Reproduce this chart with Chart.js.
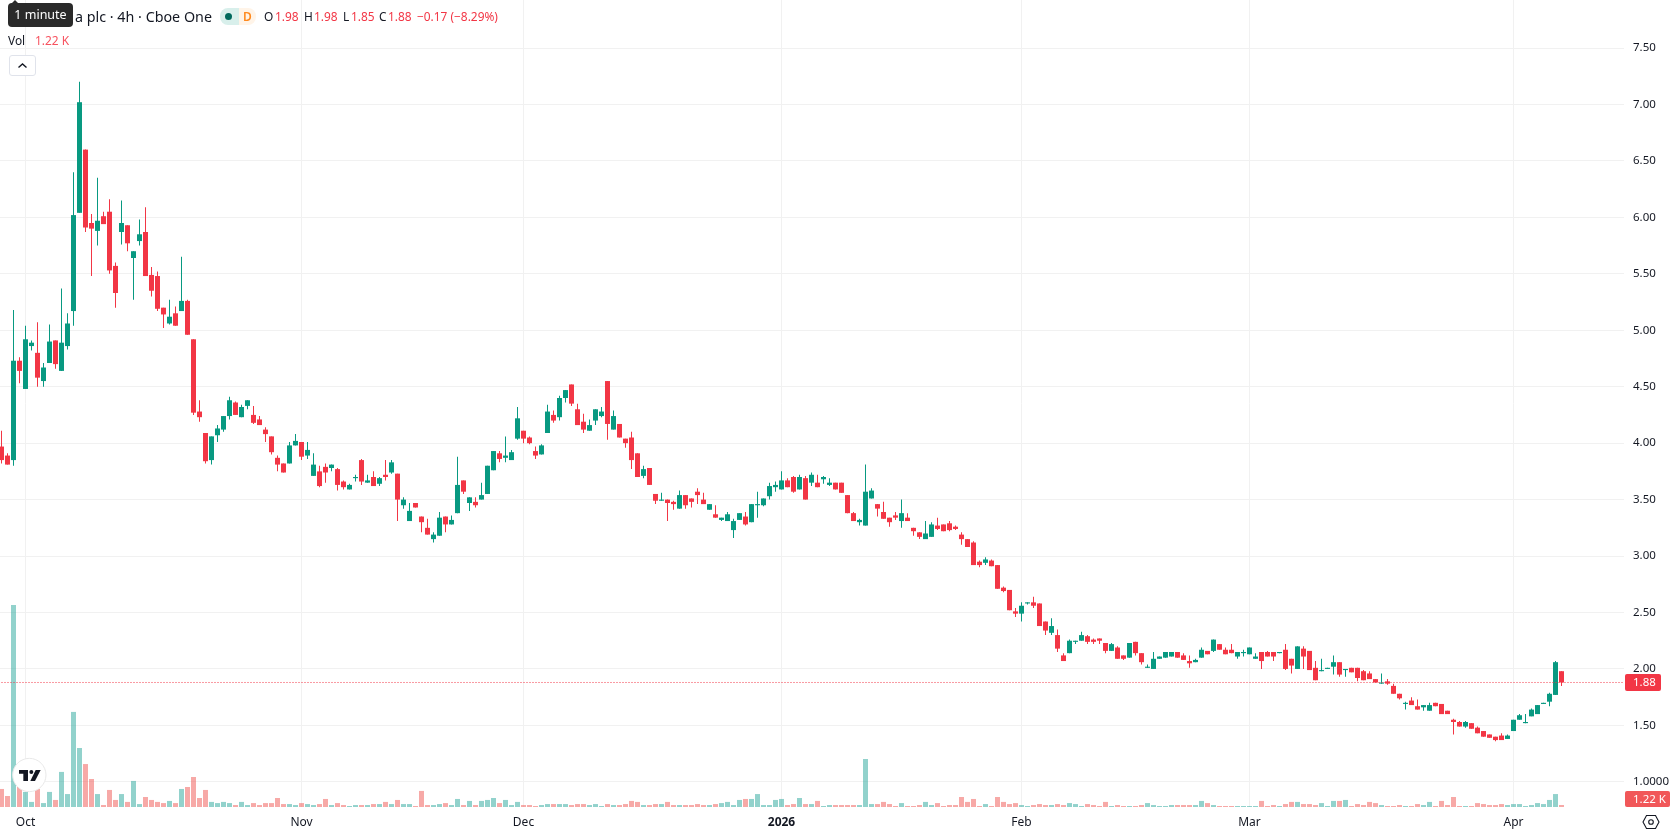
<!DOCTYPE html>
<html>
<head>
<meta charset="utf-8">
<title>4h candles</title>
<script src="https://cdn.jsdelivr.net/npm/chart.js@4/dist/chart.umd.min.js"></script>
<style>
    html, body { margin: 0; padding: 0; background: #ffffff; overflow: hidden; }
    #wrap { position: relative; width: 1678px; height: 835px; font-family: "Noto Sans", sans-serif; color: #131722; }
    #wrap canvas { position: absolute; left: 0; top: 0; }
    .txt { position: absolute; white-space: nowrap; font-size: 11.9px; line-height: 18px; }
    .red { color: #F23645; }
    #tip { position: absolute; left: 8px; top: 3px; width: 65px; height: 24px; background: #2a2a2a; border-radius: 4px; color: #fff; font-size: 12.5px; line-height: 24px; text-align: center; }
    #tipArrow { position: absolute; left: 11px; top: 0; width: 0; height: 0; border-left: 4px solid transparent; border-right: 4px solid transparent; border-bottom: 4px solid #2a2a2a; }
    #pill1 { position: absolute; left: 220px; top: 8px; width: 19px; height: 17px; background: #d8efeb; border-radius: 8px 0 0 8px; }
    #dot { position: absolute; left: 225px; top: 13px; width: 7px; height: 7px; border-radius: 50%; background: #00695c; }
    #pill2 { position: absolute; left: 239px; top: 8px; width: 17px; height: 17px; background: #fff4e8; border-radius: 0 8px 8px 0; color: #ff8a1f; font-size: 12px; font-weight: 600; line-height: 17px; text-align: center; }
    #collapse { position: absolute; left: 9px; top: 55px; width: 25px; height: 19px; border: 1px solid #e0e3eb; border-radius: 3px; background: #fff; }
    svg { position: absolute; overflow: visible; }
</style>
</head>
<body>
<div id="wrap">
    <canvas id="priceChart" width="1678" height="835"></canvas>

    <div class="txt" style="left:75px;top:6px;font-size:14.3px;line-height:21px;">a plc · 4h · Cboe One</div>
    <div id="pill1"></div><div id="dot"></div><div id="pill2">D</div>
    <div class="txt" style="left:264px;top:7px;">O</div><div class="txt red" style="left:275px;top:7px;">1.98</div>
    <div class="txt" style="left:304px;top:7px;">H</div><div class="txt red" style="left:314px;top:7px;">1.98</div>
    <div class="txt" style="left:343px;top:7px;">L</div><div class="txt red" style="left:351px;top:7px;">1.85</div>
    <div class="txt" style="left:379px;top:7px;">C</div><div class="txt red" style="left:388px;top:7px;">1.88</div>
    <div class="txt red" style="left:417px;top:7px;">−0.17 (−8.29%)</div>
    <div class="txt" style="left:8px;top:31px;">Vol</div>
    <div class="txt" style="left:35px;top:31px;color:#F7525F;">1.22 K</div>
    <div id="tip">1 minute</div><div id="tipArrow"></div>
    <div id="collapse">
        <svg style="left:6px;top:5px" width="13" height="9" viewBox="0 0 13 9"><path d="M2.5 6.5 L6.5 3 L10.5 6.5" fill="none" stroke="#131722" stroke-width="1.4"/></svg>
    </div>

    <!-- round badge, bottom left -->
    <svg style="left:0;top:600px" width="420" height="235" viewBox="0 0 1260 705">
        <circle cx="88" cy="525" r="50" fill="#ffffff" stroke="#e8e8e8" stroke-width="3"/>
        <path d="M57 510 H84 V543 H70 V521 H57 Z" fill="#131722"/>
        <circle cx="94" cy="516" r="6" fill="#131722"/>
        <path d="M107 510 H122 L105 543 H91 Z" fill="#131722"/>
    </svg>

    <!-- settings icon -->
    <svg style="left:1642px;top:813px" width="18" height="18" viewBox="0 0 18 18">
        <path d="M4.5 2.5 H13.5 L17 9 L13.5 15.5 H4.5 L1 9 Z" fill="none" stroke="#131722" stroke-width="1.1"/>
        <circle cx="9" cy="9" r="2.3" fill="none" stroke="#131722" stroke-width="1.1"/>
    </svg>
</div>

<script>
const openVals = [
    3.97,3.89,3.85,4.73,4.48,4.86,4.80,4.55,4.71,4.91,
    4.64,4.86,5.17,6.04,6.60,5.95,5.88,6.01,6.05,5.57,
    5.87,5.93,5.64,5.79,5.87,5.49,5.48,5.20,5.06,5.15,
    5.17,5.26,4.92,4.28,4.09,3.85,4.07,4.12,4.24,4.36,
    4.23,4.33,4.25,4.21,4.12,4.06,3.87,3.82,3.82,3.98,
    4.01,3.89,3.71,3.75,3.79,3.78,3.77,3.66,3.59,3.69,
    3.85,3.65,3.70,3.64,3.72,3.74,3.73,3.45,3.31,3.47,
    3.35,3.25,3.15,3.18,3.35,3.28,3.38,3.67,3.47,3.48,
    3.50,3.55,3.76,3.91,3.87,3.85,4.04,4.11,4.05,3.93,
    3.90,4.09,4.25,4.23,4.40,4.52,4.30,4.19,4.11,4.20,
    4.24,4.55,4.12,4.17,4.04,4.05,3.91,3.71,3.78,3.55,
    3.49,3.50,3.48,3.42,3.54,3.51,3.57,3.50,3.41,3.37,
    3.32,3.31,3.23,3.32,3.35,3.30,3.45,3.45,3.53,3.61,
    3.59,3.67,3.70,3.59,3.69,3.65,3.65,3.68,3.63,3.65,
    3.65,3.54,3.38,3.30,3.27,3.51,3.46,3.39,3.34,3.36,
    3.31,3.34,3.25,3.21,3.15,3.17,3.27,3.28,3.29,3.26,
    3.19,3.15,3.12,2.95,2.94,2.96,2.92,2.72,2.70,2.51,
    2.49,2.58,2.59,2.58,2.42,2.32,2.30,2.12,2.14,2.24,
    2.25,2.29,2.26,2.27,2.23,2.16,2.19,2.12,2.10,2.24,
    2.14,2.01,2.00,2.09,2.10,2.11,2.15,2.12,2.07,2.06,
    2.10,2.16,2.16,2.22,2.17,2.17,2.11,2.14,2.13,2.09,
    2.15,2.15,2.15,2.14,2.17,2.09,2.00,2.18,2.16,2.01,
    1.98,2.00,2.02,2.06,1.99,2.01,2.01,1.98,1.96,1.91,
    1.87,1.89,1.85,1.78,1.69,1.72,1.67,1.66,1.63,1.70,
    1.69,1.63,1.55,1.53,1.49,1.52,1.48,1.45,1.42,1.40,
    1.41,1.38,1.45,1.55,1.52,1.58,1.60,1.69,1.71,1.77,
    1.98
];
const highVals = [
    4.11,3.91,5.18,4.76,5.04,4.91,5.07,4.71,5.05,4.91,
    5.37,5.15,6.40,7.20,6.60,6.03,6.35,6.05,6.16,5.60,
    6.15,5.93,5.70,5.98,6.09,5.56,5.52,5.20,5.27,5.21,
    5.65,5.27,4.92,4.38,4.09,4.06,4.16,4.24,4.41,4.37,
    4.34,4.38,4.33,4.24,4.14,4.06,3.89,3.82,4.01,4.08,
    4.01,4.01,3.91,3.80,3.82,3.81,3.78,3.67,3.64,3.72,
    3.86,3.72,3.75,3.70,3.85,3.85,3.73,3.52,3.47,3.47,
    3.35,3.33,3.21,3.39,3.35,3.36,3.88,3.67,3.52,3.52,
    3.65,3.80,3.93,3.93,4.06,3.94,4.32,4.11,4.06,3.97,
    3.99,4.34,4.29,4.42,4.47,4.52,4.35,4.26,4.21,4.30,
    4.32,4.55,4.29,4.17,4.04,4.10,3.91,3.80,3.78,3.55,
    3.56,3.50,3.49,3.58,3.54,3.51,3.60,3.56,3.46,3.45,
    3.34,3.39,3.33,3.38,3.39,3.46,3.57,3.51,3.65,3.66,
    3.75,3.69,3.71,3.72,3.71,3.74,3.72,3.71,3.69,3.65,
    3.65,3.54,3.39,3.33,3.81,3.60,3.46,3.48,3.34,3.39,
    3.50,3.38,3.25,3.21,3.31,3.30,3.34,3.28,3.31,3.27,
    3.21,3.15,3.13,2.96,2.99,2.97,2.92,2.73,2.70,2.54,
    2.59,2.59,2.64,2.58,2.42,2.45,2.35,2.14,2.26,2.25,
    2.33,2.30,2.27,2.27,2.23,2.23,2.20,2.12,2.23,2.24,
    2.14,2.04,2.15,2.11,2.15,2.15,2.15,2.14,2.12,2.09,
    2.19,2.16,2.26,2.22,2.19,2.22,2.15,2.17,2.19,2.14,
    2.15,2.16,2.15,2.15,2.22,2.09,2.20,2.20,2.16,2.07,
    2.09,2.01,2.12,2.06,2.00,2.01,2.01,1.99,1.98,1.91,
    1.96,1.91,1.87,1.78,1.71,1.75,1.73,1.68,1.70,1.70,
    1.69,1.63,1.56,1.54,1.54,1.52,1.49,1.45,1.42,1.40,
    1.43,1.42,1.55,1.60,1.60,1.65,1.68,1.70,1.79,2.07,
    1.98
];
const lowVals = [
    3.82,3.81,3.80,4.53,4.48,4.82,4.50,4.50,4.71,4.66,
    4.64,4.83,5.04,6.04,5.87,5.48,5.75,5.94,5.50,5.20,
    5.76,5.70,5.27,5.75,5.48,5.30,5.17,5.02,5.05,5.04,
    5.17,4.96,4.25,4.19,3.82,3.81,4.01,4.10,4.21,4.25,
    4.23,4.30,4.17,4.16,4.01,3.90,3.75,3.74,3.82,3.98,
    3.85,3.86,3.71,3.61,3.65,3.75,3.58,3.59,3.59,3.66,
    3.63,3.65,3.62,3.62,3.67,3.73,3.31,3.42,3.31,3.43,
    3.21,3.19,3.12,3.18,3.21,3.28,3.38,3.55,3.40,3.43,
    3.50,3.55,3.76,3.83,3.83,3.85,4.03,4.00,3.99,3.86,
    3.90,4.09,4.18,4.20,4.36,4.33,4.16,4.09,4.11,4.16,
    4.23,4.03,4.12,4.05,3.96,3.77,3.70,3.69,3.63,3.46,
    3.49,3.31,3.41,3.42,3.42,3.43,3.46,3.46,3.41,3.34,
    3.31,3.31,3.16,3.32,3.27,3.30,3.34,3.44,3.50,3.57,
    3.59,3.61,3.56,3.59,3.50,3.62,3.61,3.64,3.62,3.59,
    3.56,3.38,3.31,3.27,3.27,3.51,3.35,3.33,3.26,3.32,
    3.25,3.31,3.18,3.15,3.15,3.17,3.23,3.22,3.22,3.23,
    3.10,3.08,2.92,2.90,2.92,2.91,2.71,2.68,2.52,2.46,
    2.42,2.57,2.54,2.38,2.30,2.30,2.15,2.07,2.14,2.22,
    2.25,2.22,2.22,2.22,2.14,2.16,2.09,2.08,2.10,2.12,
    2.04,2.01,2.00,2.09,2.10,2.11,2.10,2.08,2.01,2.06,
    2.10,2.13,2.15,2.17,2.13,2.14,2.09,2.11,2.13,2.09,
    2.00,2.11,2.07,2.14,1.99,1.96,2.00,2.00,1.99,1.90,
    1.98,2.00,1.95,1.93,1.93,1.97,1.89,1.90,1.91,1.88,
    1.87,1.86,1.78,1.73,1.64,1.68,1.64,1.63,1.63,1.67,
    1.60,1.60,1.42,1.49,1.48,1.47,1.43,1.40,1.39,1.36,
    1.37,1.38,1.45,1.55,1.52,1.58,1.60,1.69,1.67,1.77,
    1.85
];
const closeVals = [
    3.85,3.81,4.73,4.64,4.92,4.89,4.58,4.67,4.90,4.70,
    4.89,5.06,6.02,7.02,5.91,5.90,5.97,5.94,5.53,5.33,
    5.95,5.77,5.70,5.85,5.48,5.35,5.19,5.14,5.12,5.04,
    5.26,4.96,4.27,4.23,3.84,4.06,4.13,4.24,4.38,4.25,
    4.32,4.38,4.18,4.16,4.08,3.92,3.81,3.74,3.98,4.02,
    3.88,3.94,3.81,3.62,3.74,3.81,3.63,3.61,3.63,3.70,
    3.66,3.67,3.62,3.69,3.70,3.83,3.50,3.50,3.40,3.43,
    3.30,3.19,3.19,3.34,3.28,3.32,3.63,3.57,3.52,3.45,
    3.54,3.80,3.93,3.86,3.89,3.92,4.22,4.04,4.00,3.89,
    3.98,4.28,4.20,4.40,4.47,4.35,4.16,4.12,4.16,4.30,
    4.28,4.17,4.24,4.05,4.00,3.85,3.70,3.77,3.63,3.49,
    3.50,3.47,3.46,3.54,3.45,3.48,3.54,3.46,3.46,3.34,
    3.34,3.37,3.31,3.38,3.28,3.46,3.46,3.51,3.62,3.63,
    3.67,3.61,3.57,3.70,3.50,3.72,3.61,3.70,3.65,3.59,
    3.56,3.38,3.31,3.32,3.57,3.58,3.42,3.33,3.30,3.34,
    3.38,3.31,3.22,3.17,3.20,3.28,3.24,3.22,3.23,3.24,
    3.15,3.08,2.92,2.92,2.97,2.91,2.71,2.69,2.52,2.49,
    2.56,2.59,2.56,2.38,2.34,2.38,2.18,2.07,2.25,2.25,
    2.30,2.24,2.24,2.25,2.16,2.22,2.09,2.09,2.23,2.14,
    2.06,2.02,2.09,2.11,2.15,2.15,2.10,2.08,2.05,2.08,
    2.17,2.13,2.26,2.17,2.13,2.14,2.15,2.15,2.19,2.11,
    2.07,2.11,2.11,2.15,2.00,2.03,2.20,2.11,1.99,1.90,
    1.99,2.01,2.06,1.95,2.00,1.97,1.92,1.90,1.91,1.88,
    1.88,1.87,1.78,1.74,1.70,1.68,1.64,1.68,1.68,1.67,
    1.60,1.60,1.53,1.49,1.53,1.47,1.43,1.40,1.39,1.37,
    1.37,1.41,1.55,1.59,1.53,1.64,1.68,1.70,1.78,2.06,
    1.88
];
// volume per bar, in thousands
const volumeVals = [
    11,6.7,123.2,12.2,9.2,3.1,11,2.4,9.2,4.3,
    21.4,7.9,58,36,26.2,17.1,7.9,1.2,10.4,4.3,
    7.9,3.1,15.9,1.8,6.1,4.3,3.1,2.4,3.7,2.4,
    11,12.2,18.3,5.5,10.4,3.1,2.4,3.1,2.4,1.2,
    3.1,1.2,2.4,1.2,2.4,2.4,5.5,1.8,1.8,1.2,
    2.4,1.8,1.2,1.8,4.9,1.2,2.4,1.2,0.6,1.2,
    1.2,1.2,1.8,1.8,3.1,1.8,4.3,1.8,1.8,0.6,
    9.8,1.2,1.2,1.8,2.4,1.2,4.9,1.2,3.7,1.2,
    3.7,4.3,5.5,2.4,4.3,1.2,3.1,1.2,1.2,0.6,
    1.2,1.8,1.8,1.8,1.8,1.2,1.8,1.8,1.2,1.8,
    0.6,1.8,1.2,1.2,1.8,3.7,3.1,1.2,1.2,1.8,
    1.8,3.1,1.2,1.2,1.2,1.2,1.8,1.2,1.2,1.8,
    2.4,3.1,1.2,4.3,4.9,4.9,7.9,1.2,1.2,4.3,
    4.9,1.2,1.8,5.5,1.8,1.8,3.7,0.6,1.2,1.2,
    1.2,1.2,1.2,1.2,29.3,1.8,1.8,3.1,1.8,0.6,
    2.4,0.6,0.6,1.2,3.1,1.2,2.4,0.6,1.2,1.2,
    6.1,3.1,4.9,0.6,1.8,0.6,6.1,3.1,1.8,2.4,
    1.2,0.6,1.2,1.8,1.2,1.2,1.8,1.2,2.4,1.8,
    0.6,1.8,1.2,0.6,3.1,0.6,1.2,0.6,0.6,0.6,
    1.2,2.4,1.2,0.6,0.6,1.2,1.2,1.2,1.2,1.2,
    3.7,2.4,1.2,0.6,0.6,0.6,0.6,0.6,0.6,0.6,
    3.7,0.6,1.2,0.6,1.8,3.1,3.1,1.8,1.8,1.2,
    2.4,0.6,3.7,3.7,4.3,0.6,1.8,1.2,3.1,2.4,
    1.2,0.6,0.6,1.2,0.6,0.6,1.8,1.2,3.1,0.6,
    3.7,1.2,6.1,0.6,0.6,0.6,2.4,1.8,1.2,1.2,
    1.8,1.2,1.8,1.8,0.6,1.2,2.4,1.8,4.3,7.9,
    1.22
];

const priceTicks = [7.5, 7, 6.5, 6, 5.5, 5, 4.5, 4, 3.5, 3, 2.5, 2, 1.5, 1];
const priceTickLabels = ['7.50', '7.00', '6.50', '6.00', '5.50', '5.00', '4.50', '4.00', '3.50', '3.00', '2.50', '2.00', '1.50', '1.0000'];
const timeTicks = [4, 50, 87, 130, 170, 208, 252];
const timeTickLabels = ['Oct', 'Nov', 'Dec', '2026', 'Feb', 'Mar', 'Apr'];

const lastClose = 1.88;
const lastVolume = 1.22;

const UP = '#089981';
const DOWN = '#F23645';
const VOL_UP = 'rgba(38,166,154,0.5)';
const VOL_DOWN = 'rgba(239,83,80,0.5)';
const AXIS_TEXT = '#131722';
const GRID = '#f1f1f1';
const FONT = '"Noto Sans", sans-serif';

const isUp = (i) => closeVals[i] >= openVals[i];
const candleColor = (ctx) => (isUp(ctx.dataIndex) ? UP : DOWN);
const volumeColor = (ctx) => (isUp(ctx.dataIndex) ? VOL_UP : VOL_DOWN);

// value tags sitting on the price axis
const axisTags = {
    id: 'axisTags',
    afterDraw(chart) {
        const { ctx, chartArea, scales } = chart;
        const left = chartArea.right + 1;

        const tag = (text, top, w, h, color) => {
            ctx.save();
            ctx.fillStyle = color;
            ctx.beginPath();
            ctx.roundRect(left, top, w, h, 2);
            ctx.fill();
            ctx.fillStyle = '#ffffff';
            ctx.font = '11.5px ' + FONT;
            ctx.textAlign = 'left';
            ctx.textBaseline = 'middle';
            ctx.fillText(text, left + 8, top + h / 2 + 0.5);
            ctx.restore();
        };

        tag(lastClose.toFixed(2), Math.round(scales.y.getPixelForValue(lastClose)) - 8, 36, 17, DOWN);
        tag(lastVolume.toFixed(2) + ' K', Math.round(scales.vol.getPixelForValue(lastVolume)) - 14, 45, 16, '#f15759');
    }
};

const indexes = closeVals.map((_, i) => i);

new Chart(document.getElementById('priceChart').getContext('2d'), {
    data: {
        datasets: [
            {
                type: 'line',
                data: [{ x: -1, y: lastClose }, { x: 272, y: lastClose }],
                borderColor: DOWN,
                borderWidth: 1,
                borderDash: [1, 2],
                pointRadius: 0,
                order: 0
            },
            {
                type: 'bar',
                data: indexes.map((i) => ({ x: i, y: [openVals[i], closeVals[i]] })),
                backgroundColor: candleColor,
                barThickness: 5,
                grouped: false,
                inflateAmount: 0,
                order: 1
            },
            {
                type: 'bar',
                data: indexes.map((i) => ({ x: i, y: [lowVals[i], highVals[i]] })),
                backgroundColor: candleColor,
                barThickness: 1,
                grouped: false,
                inflateAmount: 0,
                order: 2
            },
            {
                type: 'bar',
                yAxisID: 'vol',
                data: indexes.map((i) => ({ x: i, y: volumeVals[i] })),
                backgroundColor: volumeColor,
                barThickness: 5,
                grouped: false,
                inflateAmount: 0,
                order: 3
            }
        ]
    },
    options: {
        responsive: false,
        animation: false,
        events: [],
        layout: { padding: 0 },
        plugins: {
            legend: { display: false },
            tooltip: { enabled: false }
        },
        scales: {
            x: {
                type: 'linear',
                offset: false,
                min: -0.25,
                max: 270.41667,
                afterBuildTicks(scale) {
                    scale.ticks = timeTicks.map((value) => ({ value }));
                },
                afterFit(scale) {
                    scale.height = 28;
                    scale.paddingLeft = 0;
                    scale.paddingRight = 0;
                },
                ticks: {
                    autoSkip: false,
                    maxRotation: 0,
                    padding: 8,
                    color: AXIS_TEXT,
                    font: (ctx) => ({ family: FONT, size: 12, weight: ctx.index === 3 ? 700 : 400 }),
                    callback(value, index) {
                        return timeTickLabels[index];
                    }
                },
                grid: { color: GRID, drawTicks: false, offset: false },
                border: { display: false }
            },
            y: {
                type: 'linear',
                position: 'right',
                min: 0.77723,
                max: 7.92516,
                afterBuildTicks(scale) {
                    scale.ticks = priceTicks.map((value) => ({ value }));
                },
                afterFit(scale) {
                    scale.width = 54;
                    scale.paddingTop = 0;
                    scale.paddingBottom = 0;
                },
                ticks: {
                    autoSkip: false,
                    padding: 9,
                    color: AXIS_TEXT,
                    font: { family: FONT, size: 11.5 },
                    callback(value, index) {
                        return priceTickLabels[index];
                    }
                },
                grid: { color: GRID, drawTicks: false },
                border: { display: false }
            },
            vol: {
                type: 'linear',
                display: false,
                min: 0,
                max: 492.3
            }
        }
    },
    plugins: [axisTags]
});
</script>
</body>
</html>
